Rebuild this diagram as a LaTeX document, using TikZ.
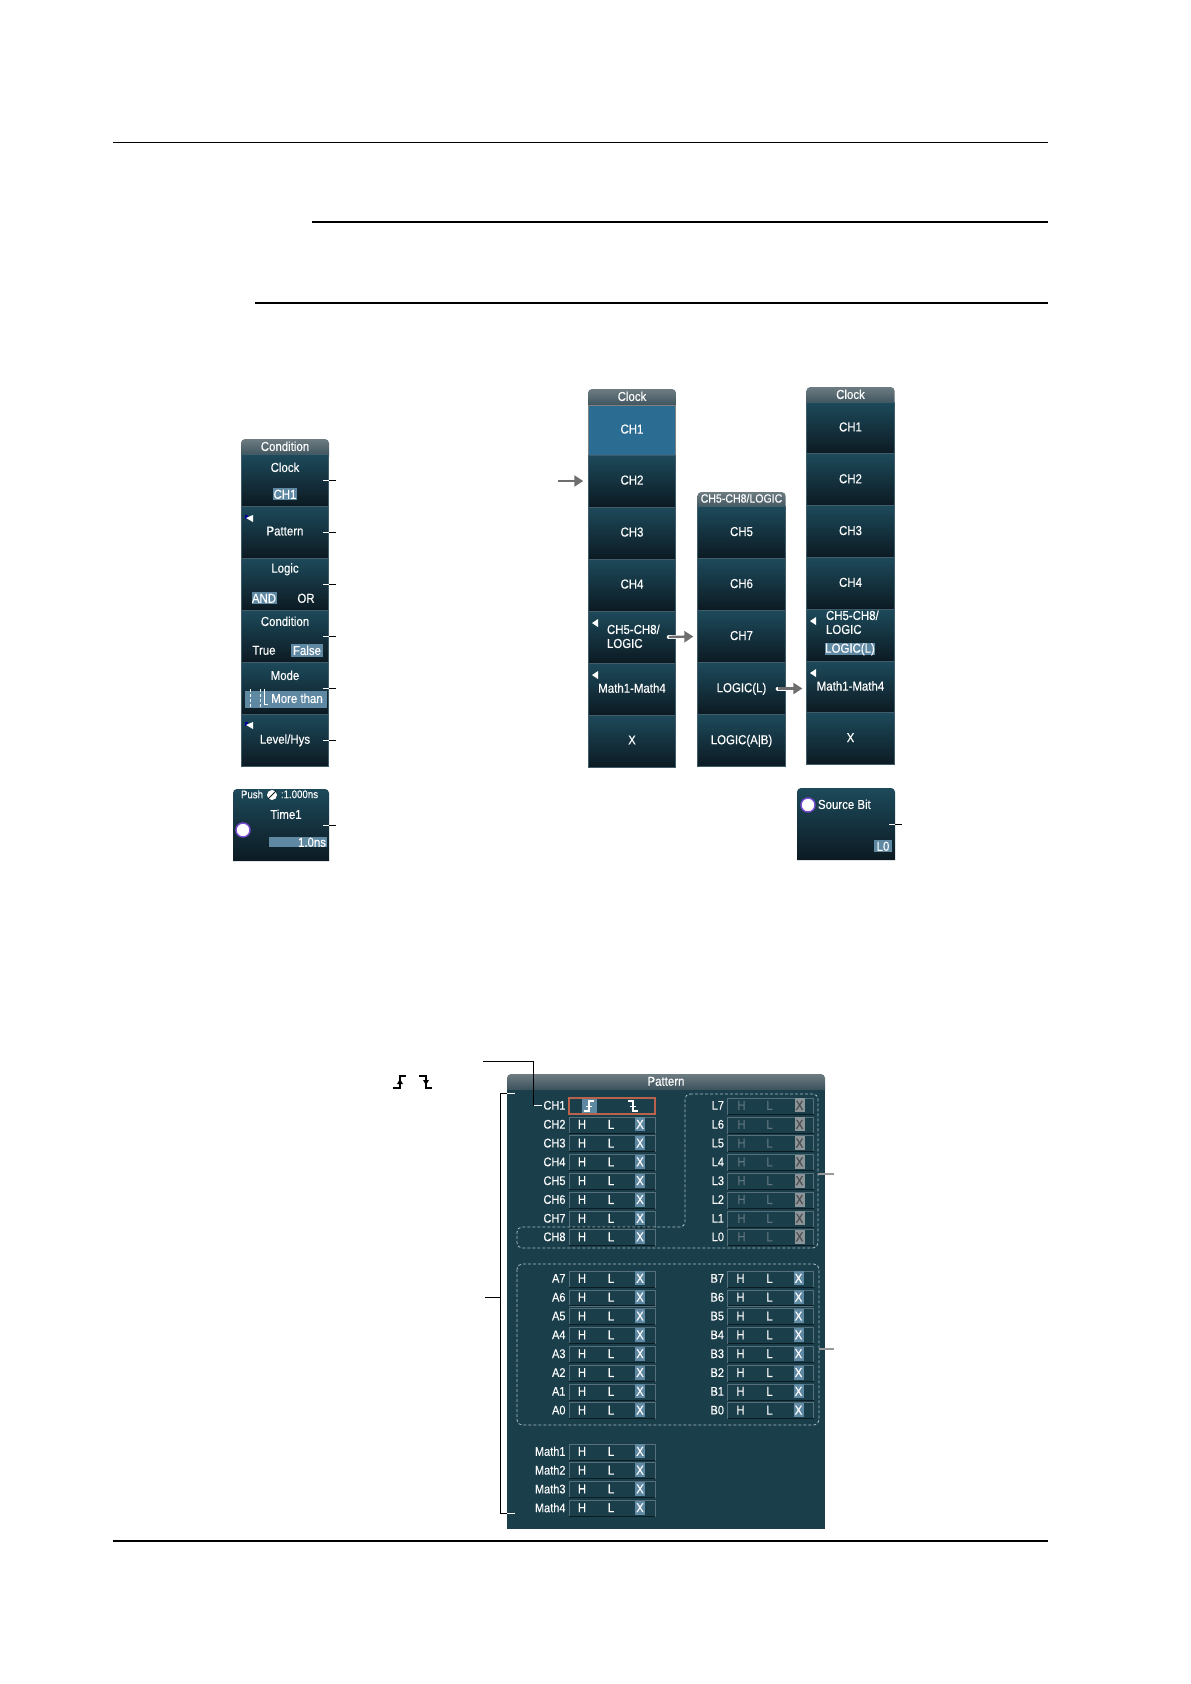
\documentclass[tikz,border=0pt]{standalone}
\usepackage{fontspec}
\newfontfamily\panelfont[FakeStretch=0.88,FakeBold=0.25]{Liberation Sans}
\usetikzlibrary{positioning}
\usetikzlibrary{arrows.meta}
\definecolor{btntop}{HTML}{1D4A5B}
\definecolor{btnmid}{HTML}{153644}
\definecolor{btnbot}{HTML}{0C1A22}
\definecolor{btnline}{HTML}{3F5C68}
\definecolor{headtop}{HTML}{6E7C82}
\definecolor{headbot}{HTML}{2E4652}
\definecolor{selfill}{HTML}{2B6C92}
\definecolor{valfill}{HTML}{5F88A3}
\definecolor{patbg}{HTML}{1B3E4B}
\definecolor{rowline}{HTML}{55707C}
\definecolor{rowdark}{HTML}{0B1C24}
\definecolor{dimtext}{HTML}{5F7680}
\definecolor{dimbox}{HTML}{8A9499}
\definecolor{redline}{HTML}{B9624C}
\definecolor{dashline}{HTML}{A9C0C8}
\definecolor{arrowgray}{HTML}{6E6E6E}
\tikzset{
    menubtn/.style = {rectangle, draw=btnline, line width=0.7pt, inner sep=0, outer sep=0, minimum width=87.5pt, minimum height=52pt, text depth=2pt,
        top color=btntop, middle color=btnmid, bottom color=btnbot, text=white, font=\panelfont\fontsize{13}{14}\selectfont},
    headbar/.style = {rectangle, rounded corners=4pt, inner sep=0, outer sep=0, minimum width=88pt, minimum height=22pt, anchor=north,
        top color=headtop, bottom color=headbot},
    paneltext/.style = {inner sep=0, outer sep=0, yshift=0.7pt, text=white, font=\panelfont\fontsize{13}{14}\selectfont},
    valbox/.style = {paneltext, fill=valfill, minimum height=12pt},
    leadw/.style = {white, line width=1pt},
    leadk/.style = {black, line width=1pt},
    leadg/.style = {gray!80, line width=1.2pt},
    menuarrow/.style = {arrowgray, line width=2.4pt, -{Triangle[length=9pt,width=11pt]}},
    arrowhalo/.style = {white, line width=4pt, line cap=round},
    patbox/.style = {rectangle, inner sep=0, outer sep=0, draw=rowline, line width=0.7pt, fill=patbg, minimum width=86pt, minimum height=16pt, anchor=west},
    patlabel/.style = {paneltext, anchor=east, font=\panelfont\fontsize{12.5}{14}\selectfont},
    patsel/.style = {paneltext, fill=valfill, minimum width=10pt, minimum height=14pt},
    patdim/.style = {paneltext, text=dimtext},
    patgrey/.style = {paneltext, fill=dimbox, minimum width=10pt, minimum height=14pt, text=black!70},
    dashbox/.style = {dashline, line width=0.8pt, densely dashed, rounded corners=5pt},
}
% one row of the pattern table
\newcommand{\patrow}[3]{
    \node[patbox] at (#2,#3) (row#1) {};
    \draw[rowdark, line width=1pt] (row#1.south west) -- (row#1.south east);
    \node[patlabel, left=3.5pt of row#1] (lab#1) {#1};
    \node[paneltext] at ([xshift=13pt]row#1.west) (h#1) {H};
    \node[paneltext] at ([xshift=42pt]row#1.west) (l#1) {L};
    \node[patsel] at ([xshift=71pt]row#1.west) (x#1) {X};
}
% same row, greyed out
\newcommand{\logrow}[3]{
    \node[patbox] at (#2,#3) (row#1) {};
    \draw[rowdark, line width=1pt] (row#1.south west) -- (row#1.south east);
    \node[patlabel, left=3.5pt of row#1] (lab#1) {#1};
    \node[patdim] at ([xshift=14pt]row#1.west) (h#1) {H};
    \node[patdim] at ([xshift=42pt]row#1.west) (l#1) {L};
    \node[patgrey] at ([xshift=72pt]row#1.west) (x#1) {X};
}
% leader line leaving a panel on the right
\newcommand{\leadout}[1]{
    \draw[leadk] (#1.east) -- ([xshift=7pt]#1.east);
    \draw[leadw] ([xshift=-6pt]#1.east) -- (#1.east);
}
\newcommand{\backmark}[2]{\fill[white] (#1-3,#2) -- (#1+3,#2-4) -- (#1+3,#2+4) -- cycle;}
\newcommand{\softmark}[2]{
    \fill[blue!60!black] (#1-4,#2-3) rectangle (#1-1,#2+1);
    \fill[white] (#1-3,#2) -- (#1+4,#2-3) -- (#1+4,#2+4) -- cycle;
}
\newcommand{\knob}[2]{\draw[violet!50!blue!70, line width=1.4pt, fill=white] (#1,#2) circle (7pt);}

\begin{document}
\begin{tikzpicture}[x=1pt,y=-1pt]
\useasboundingbox (0,0) rectangle (1191,1684);
\coordinate (rule1a) at (113,142.3);
\coordinate (rule1b) at (1048,142.3);
\coordinate (rule2a) at (312,221.7);
\coordinate (rule2b) at (1048,221.7);
\coordinate (rule3a) at (255,303);
\coordinate (rule3b) at (1048,303);
\coordinate (rule4a) at (113,1541);
\coordinate (rule4b) at (1048,1541);
\draw[line width=1.2pt] (rule1a) -- (rule1b);
\draw[line width=2pt] (rule2a) -- (rule2b);
\draw[line width=2pt] (rule3a) -- (rule3b);
\draw[line width=1.2pt] (rule4a) -- (rule4b);
% condition panel
\node[headbar] at (285,439) (condhead) {};
\node[paneltext] at (285,447) (condtitle) {Condition};
\node[menubtn] at (285,480) (condclock) {};
\node[menubtn, below=0pt of condclock] (condpat) {Pattern};
\node[menubtn, below=0pt of condpat] (condlogic) {};
\node[menubtn, below=0pt of condlogic] (condcond) {};
\node[menubtn, below=0pt of condcond] (condmode) {};
\node[menubtn, below=0pt of condmode] (condlevel) {Level/Hys};
\node[paneltext] at (285,468) (clocktxt) {Clock};
\node[valbox, minimum width=24pt] at (285,495) (clockval) {CH1};
\node[paneltext] at (285,570) (logictxt) {Logic};
\node[valbox, minimum width=25pt] at (264,599) (andval) {AND};
\node[paneltext] at (306,599) (ortxt) {OR};
\node[paneltext] at (285,622) (condtxt) {Condition};
\node[paneltext] at (264,651) (truetxt) {True};
\node[valbox, minimum width=32pt, minimum height=13pt] at (307,651) (falseval) {False};
\node[paneltext] at (285,676) (modetxt) {Mode};
\node[valbox, minimum width=82pt, minimum height=17pt] at (286,700.5) (modeval) {};
\node[paneltext] at (297,699) (moretxt) {More than};
\draw[white, densely dashed, line width=0.7pt] (250,689) -- (250,708);
\draw[white, densely dashed, line width=0.7pt] (260,689) -- (260,708);
\draw[white, line width=0.8pt] (264,689) -- (264,704) -- (268,704);
\softmark{249}{518}
\softmark{249}{725}
\leadout{condclock}
\leadout{condpat}
\leadout{condlogic}
\leadout{condcond}
\leadout{condmode}
\leadout{condlevel}
% time panel
\path[top color=btntop, bottom color=btnbot, rounded corners=4pt] (233,861) [sharp corners] -- (233,800) [rounded corners=4pt] -- (233,789) -- (329,789) [sharp corners] -- (329,861) -- cycle;
\node[minimum width=96pt, minimum height=72pt, inner sep=0, outer sep=0] at (281,825) (timebtn) {};
\node[paneltext, font=\panelfont\fontsize{11}{12}\selectfont] at (252,795) (pushtxt) {Push};
\node[paneltext, font=\panelfont\fontsize{11}{12}\selectfont] at (299.5,795) (steptxt) {:1.000ns};
\fill[white] (272,795) circle (5pt);
\draw[btnbot, line width=1pt] (268,799) -- (276,791);
\node[paneltext] at (286,815) (timetxt) {Time1};
\node[valbox, minimum width=58pt, minimum height=10pt] at (298,843) (timeval) {};
\node[paneltext, anchor=east] at (326,843) (timenum) {1.0ns};
\knob{243}{830}
\leadout{timebtn}
% clock panel
\node[headbar] at (632,389) (clkhead) {};
\node[paneltext] at (632,397) (clktitle) {Clock};
\node[menubtn, top color=selfill, bottom color=selfill, middle color=selfill, draw=gray, minimum height=50pt] at (632,430) (clk1) {CH1};
\node[menubtn, below=0pt of clk1] (clk2) {CH2};
\node[menubtn, below=0pt of clk2] (clk3) {CH3};
\node[menubtn, below=0pt of clk3] (clk4) {CH4};
\node[menubtn, below=0pt of clk4] (clk5) {};
\node[menubtn, below=0pt of clk5] (clk6) {Math1-Math4};
\node[menubtn, below=0pt of clk6] (clk7) {X};
\node[paneltext, align=left, anchor=west] at (607,637) (clk5txt) {CH5-CH8/\\LOGIC};
\backmark{595}{623}
\backmark{595}{675}
% logic panel
\node[headbar, minimum width=88.3pt] at (741.5,492) (loghead) {};
\node[paneltext, font=\panelfont\fontsize{12}{13}\selectfont] at (741.5,499) (logtitle) {CH5-CH8/LOGIC};
\node[menubtn, minimum width=88.3pt] at (741.5,532.5) (log1) {CH5};
\node[menubtn, minimum width=88.3pt, below=0pt of log1] (log2) {CH6};
\node[menubtn, minimum width=88.3pt, below=0pt of log2] (log3) {CH7};
\node[menubtn, minimum width=88.3pt, below=0pt of log3] (log4) {LOGIC(L)};
\node[menubtn, minimum width=88.3pt, below=0pt of log4] (log5) {LOGIC(A|B)};
% clock panel, logic chosen
\node[headbar, minimum width=88.3pt] at (850.5,387) (chdhead) {};
\node[paneltext] at (850.5,395) (chdtitle) {Clock};
\node[menubtn, minimum width=88.3pt, minimum height=51.8pt] at (850.5,427.9) (chd1) {CH1};
\node[menubtn, minimum width=88.3pt, minimum height=51.8pt, below=0pt of chd1] (chd2) {CH2};
\node[menubtn, minimum width=88.3pt, minimum height=51.8pt, below=0pt of chd2] (chd3) {CH3};
\node[menubtn, minimum width=88.3pt, minimum height=51.8pt, below=0pt of chd3] (chd4) {CH4};
\node[menubtn, minimum width=88.3pt, minimum height=51.8pt, below=0pt of chd4] (chd5) {};
\node[menubtn, minimum width=88.3pt, minimum height=51.8pt, below=0pt of chd5] (chd6) {Math1-Math4};
\node[menubtn, minimum width=88.3pt, minimum height=51.8pt, below=0pt of chd6] (chd7) {X};
\node[paneltext, align=left, anchor=west] at (826,623) (chd5txt) {CH5-CH8/\\LOGIC};
\node[valbox, minimum width=48pt, minimum height=11pt] at (850,650) (chd5val) {LOGIC(L)};
\backmark{813}{621}
\backmark{813}{673}
% arrows between the panels
\coordinate (arrowin) at ([xshift=-30pt]clk2.west);
\draw[menuarrow] (arrowin) -- ([xshift=-5pt]clk2.west);
\draw[arrowhalo] ([xshift=-7pt]clk5.east) -- (clk5.east);
\draw[menuarrow] ([xshift=-7pt]clk5.east) -- ([xshift=-4pt]log3.west);
\draw[arrowhalo] ([xshift=-8pt]log4.east) -- (log4.east);
\draw[menuarrow] ([xshift=-8pt]log4.east) -- ([xshift=-4pt]chd6.west |- log4.east);
% source bit panel
\path[top color=btntop, bottom color=btnbot, rounded corners=4pt] (797,860) [sharp corners] -- (797,800) [rounded corners=4pt] -- (797,788) -- (895,788) [sharp corners] -- (895,860) -- cycle;
\node[minimum width=98pt, minimum height=72pt, inner sep=0, outer sep=0] at (846,824.5) (srcbtn) {};
\knob{808}{805}
\node[paneltext, anchor=west] at (818,805) (srctxt) {Source Bit};
\node[valbox, minimum width=18pt, minimum height=12pt] at (883,847) (srcval) {L0};
\leadout{srcbtn}
% pattern panel
\path[fill=patbg] (507,1080) rectangle (825,1529);
\node[headbar, minimum width=318pt, minimum height=20pt] at (666,1074) (pathead) {};
\path[fill=patbg] (507,1090) rectangle (825,1096);
\node[paneltext] at (666,1082) (pattitle) {Pattern};
%
\node[patbox, draw=redline, line width=1.2pt] at (569,1106) (rowCH1) {};
\node[patlabel, left=3.5pt of rowCH1] (labCH1) {CH1};
\node[fill=valfill, minimum width=15pt, minimum height=14pt, inner sep=0] at (589,1106) (riseCH1) {};
\draw[white, line width=1.2pt] (584,1111) -- (589,1111) -- (589,1101) -- (594,1101);
\draw[white, line width=0.9pt] (586,1106) -- (592,1106);
\draw[white, line width=1.2pt] (628,1101) -- (633,1101) -- (633,1111) -- (638,1111);
\draw[white, line width=0.9pt] (630,1106) -- (636,1106);
\coordinate (fallCH1) at (633,1106);
%
\patrow{CH2}{569}{1125}
\patrow{CH3}{569}{1143.8}
\patrow{CH4}{569}{1162.6}
\patrow{CH5}{569}{1181.4}
\patrow{CH6}{569}{1200.2}
\patrow{CH7}{569}{1219}
\patrow{CH8}{569}{1237.5}
\logrow{L7}{727.5}{1106}
\logrow{L6}{727.5}{1125}
\logrow{L5}{727.5}{1143.8}
\logrow{L4}{727.5}{1162.6}
\logrow{L3}{727.5}{1181.4}
\logrow{L2}{727.5}{1200.2}
\logrow{L1}{727.5}{1219}
\logrow{L0}{727.5}{1237.5}
\patrow{A7}{569}{1279}
\patrow{A6}{569}{1297.9}
\patrow{A5}{569}{1316.7}
\patrow{A4}{569}{1335.5}
\patrow{A3}{569}{1354.4}
\patrow{A2}{569}{1373.2}
\patrow{A1}{569}{1392}
\patrow{A0}{569}{1410.8}
\patrow{B7}{727.5}{1279}
\patrow{B6}{727.5}{1297.9}
\patrow{B5}{727.5}{1316.7}
\patrow{B4}{727.5}{1335.5}
\patrow{B3}{727.5}{1354.4}
\patrow{B2}{727.5}{1373.2}
\patrow{B1}{727.5}{1392}
\patrow{B0}{727.5}{1410.8}
\patrow{Math1}{569}{1452}
\patrow{Math2}{569}{1470.8}
\patrow{Math3}{569}{1489.6}
\patrow{Math4}{569}{1508.4}
% dashed groups
\draw[dashbox] (685,1094) -- (818,1094) -- (818,1248) -- (517,1248) -- (517,1227) -- (685,1227) -- cycle;
\draw[dashbox] (517,1264) rectangle (819,1425);
% leaders of the pattern panel
\coordinate (edgehead) at (483,1061);
\coordinate (edgecorner) at (533,1061);
\draw[leadk] (edgehead) -- (edgecorner) |- ([xshift=-2pt]labCH1.west);
\draw[leadw] ([xshift=-10pt]labCH1.west) -- ([xshift=-2pt]labCH1.west);
\coordinate (bracetop) at (515,1093);
\coordinate (bracebot) at (515,1513);
\coordinate (bracemid) at (500,1297);
\coordinate (bracetail) at (485,1297);
\draw[leadk] (bracetop) -- (500,1093) -- (500,1513) -- (bracebot);
\draw[leadk] (bracetail) -- (bracemid);
\draw[leadw] (507,1093) -- (bracetop);
\draw[leadw] (507,1513) -- (bracebot);
\coordinate (logicedge) at (818,1174);
\coordinate (logicend) at (834,1174);
\coordinate (abedge) at (819,1349);
\coordinate (abend) at (834,1349);
\draw[leadg] (logicedge) -- (logicend);
\draw[leadg] (abedge) -- (abend);
% edge symbols
\coordinate (risesym) at (399,1083);
\coordinate (fallsym) at (425,1083);
\draw[line width=1.4pt] (393,1088) -- (400,1088) -- (400,1076) -- (406,1076);
\fill (400,1079) -- (397,1084) -- (403,1084) -- cycle;
\draw[line width=1.4pt] (419,1076) -- (426,1076) -- (426,1088) -- (432,1088);
\fill (426,1085) -- (423,1080) -- (429,1080) -- cycle;
\end{tikzpicture}
\end{document}
